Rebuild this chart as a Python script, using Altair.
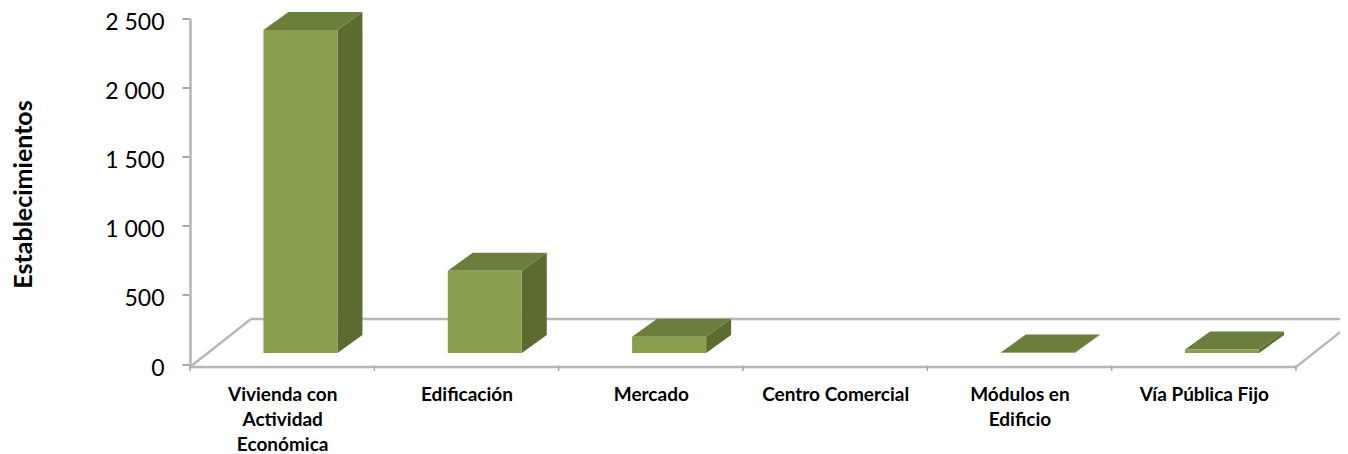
import json
import altair as alt
import pandas as pd

categories = ["Vivienda con|Actividad|Económica", "Edificación", "Mercado",
              "Centro Comercial", "Módulos en|Edificio", "Vía Pública Fijo"]
values = [2337, 595, 118, 0, 3, 25]
y_ticks = [0, 500, 1000, 1500, 2000, 2500]

FONT = "Lato"
FRONT, TOP, SIDE = "#8a9e50", "#6c7e3c", "#5c6c30"
LINE = "#b8b8b8"

# 3D projection, in data units
X_MAX = 6.239
Y_MIN = -21.7
Y_MAX = 2500
BAR_L, BAR_R = 0.3985, 0.80
DX, DY = 0.1356, 130
BASE = 80
FLOOR_DX, FLOOR_Y = 0.331, 325.6

xs = alt.Scale(domain=[0, X_MAX], nice=False, zero=False)
ys = alt.Scale(domain=[Y_MIN, Y_MAX], nice=False, zero=False)

front, faces = [], []
for i, v in enumerate(values):
    if v <= 0:
        continue
    l, r, t = i + BAR_L, i + BAR_R, BASE + v
    front.append(dict(x=l, x2=r, y=BASE, y2=t))
    for px, py, py2 in [(l, t, t), (l + DX, t + DY, t), (r, t + DY, t), (r + DX, t + DY, t + DY)]:
        faces.append(dict(id=f"t{i}", face="top", x=px, y=py, y2=py2))
    for px, py, py2 in [(r, t, BASE), (r + DX, t + DY, BASE + DY)]:
        faces.append(dict(id=f"s{i}", face="side", x=px, y=py, y2=py2))

floor = []
for pid, pts in {
    "front": [(0, Y_MIN), (6, Y_MIN)],
    "left": [(0, Y_MIN), (FLOOR_DX, FLOOR_Y)],
    "back": [(FLOOR_DX, FLOOR_Y), (6 + FLOOR_DX, FLOOR_Y)],
    "right": [(6, Y_MIN), (6 + FLOOR_DX, FLOOR_Y)],
}.items():
    for k, (a, b) in enumerate(pts):
        floor.append(dict(id=pid, k=k, x=a, y=b))

ticks = pd.DataFrame({"x": list(range(7)), "y": [-50] * 7, "y2": [Y_MIN + 10] * 7})

label_expr = "split(" + json.dumps(categories, ensure_ascii=False) + "[floor(datum.value)], '|')"

floor_layer = alt.Chart(pd.DataFrame(floor)).mark_line(color=LINE, strokeWidth=2.4).encode(
    x=alt.X("x:Q", scale=xs, axis=alt.Axis(
        values=[i + 0.5 for i in range(6)], ticks=False, domain=False, grid=False, title=None,
        labelExpr=label_expr, labelFont=FONT, labelFontWeight="bold", labelFontSize=19,
        labelColor="#000000", labelPadding=18, labelLineHeight=25, labelAngle=0,
        labelOverlap=False, labelFlush=False, labelBaseline="top")),
    y=alt.Y("y:Q", scale=ys, axis=alt.Axis(
        values=y_ticks, grid=False, title="Establecimientos", titleFont=FONT, titleFontWeight="bold",
        titleFontSize=25, titleColor="#000000", titleAngle=270, titleX=-167, titleY=175.5,
        titleAlign="center", titleBaseline="middle",
        labelExpr="replace(format(datum.value, ','), ',', ' ')",
        labelFont=FONT, labelFontSize=23, labelColor="#000000", labelPadding=18, labelOffset=4,
        tickSize=8, tickColor="#a8a8a8", tickWidth=2, domainColor=LINE, domainWidth=2.6)),
    detail="id:N", order="k:Q",
)

tick_layer = alt.Chart(ticks).mark_rule(color="#a8a8a8", strokeWidth=1.6).encode(
    x=alt.X("x:Q", scale=xs), y=alt.Y("y:Q", scale=ys), y2="y2:Q")

faces_df = pd.DataFrame(faces)
top_layer = alt.Chart(faces_df[faces_df.face == "top"]).mark_area(color=TOP, interpolate="linear").encode(
    x=alt.X("x:Q", scale=xs), y=alt.Y("y:Q", scale=ys), y2="y2:Q", detail="id:N")
side_layer = alt.Chart(faces_df[faces_df.face == "side"]).mark_area(color=SIDE, interpolate="linear").encode(
    x=alt.X("x:Q", scale=xs), y=alt.Y("y:Q", scale=ys), y2="y2:Q", detail="id:N")
front_layer = alt.Chart(pd.DataFrame(front)).mark_rect(color=FRONT).encode(
    x=alt.X("x:Q", scale=xs), x2="x2:Q", y=alt.Y("y:Q", scale=ys), y2="y2:Q")

chart = alt.layer(
    floor_layer, tick_layer, top_layer, side_layer, front_layer
).properties(
    width=1150, height=348.5,
    autosize=alt.AutoSizeParams(type="none"),
    padding={"left": 182, "top": 10.5, "right": 0, "bottom": 86},
).configure_view(stroke=None)

chart.save("out.html", embed_options={"renderer": "svg", "actions": False})
